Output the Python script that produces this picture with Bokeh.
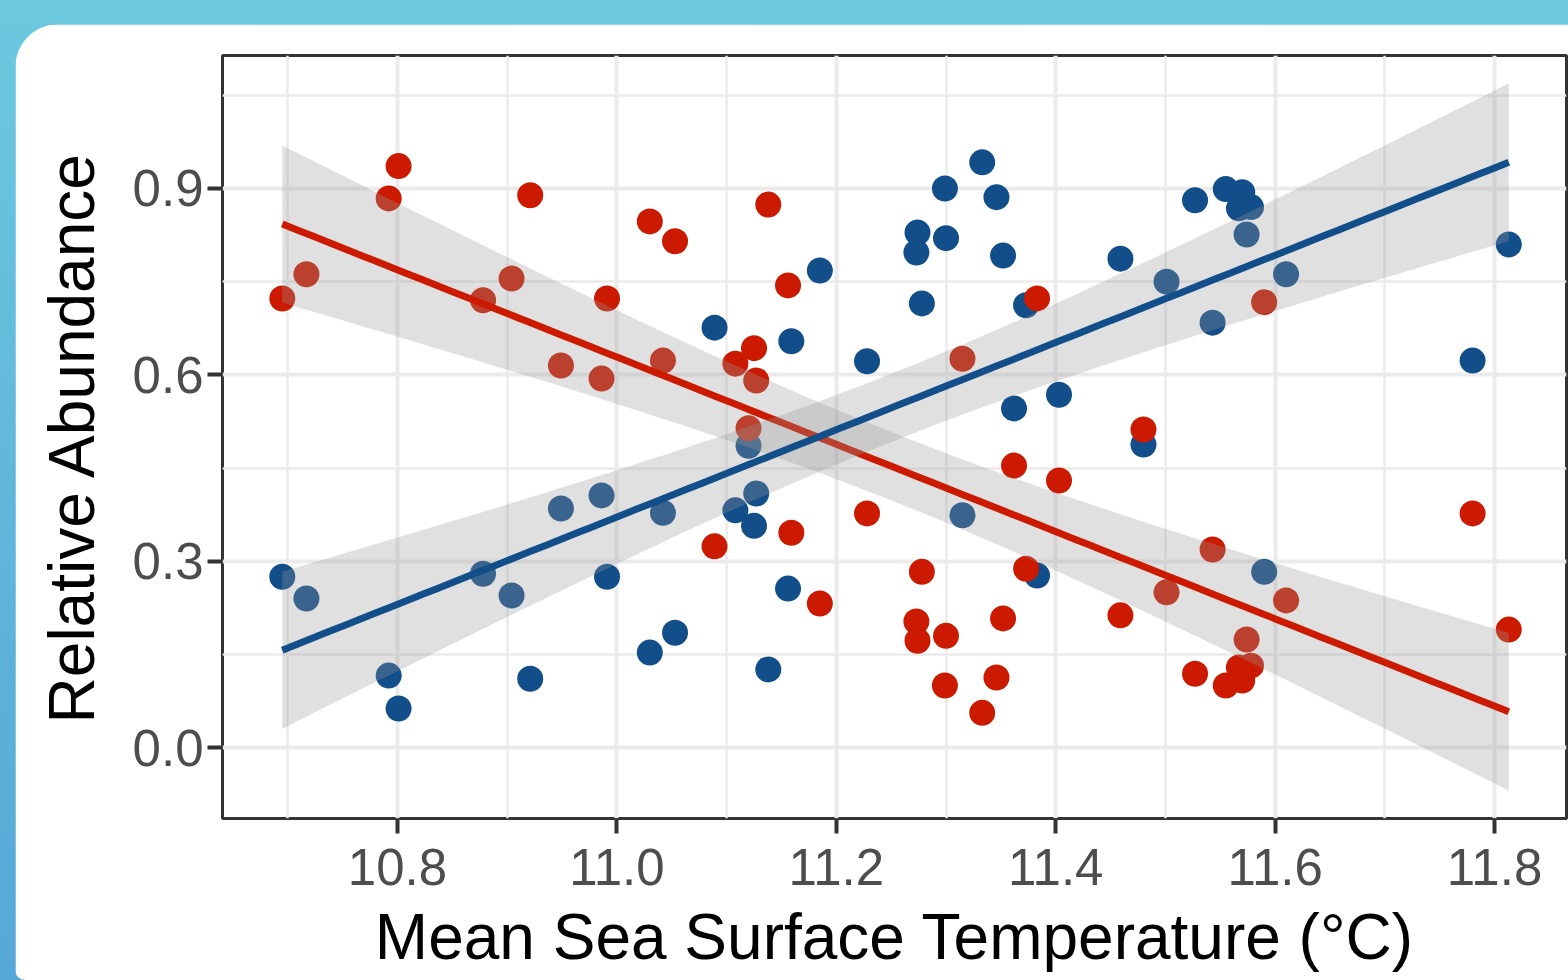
import numpy as np
from bokeh.plotting import figure
from bokeh.layouts import column
from bokeh.models import Range1d, FixedTicker
from bokeh.embed import file_html
from bokeh.resources import INLINE

# ---------------- data ----------------
sst = [10.695, 10.717, 10.801, 10.792, 10.921, 10.878, 10.904, 10.949, 10.986, 10.991,
       11.030, 11.053, 11.042, 11.089, 11.108, 11.125, 11.127, 11.120, 11.138, 11.156,
       11.159, 11.185, 11.228, 11.278, 11.273, 11.274, 11.300, 11.299, 11.315, 11.333,
       11.346, 11.352, 11.362, 11.373, 11.383, 11.403, 11.459, 11.480, 11.501, 11.527,
       11.543, 11.555, 11.567, 11.570, 11.578, 11.574, 11.590, 11.610, 11.780, 11.813]

red_abundance = [0.723, 0.762, 0.936, 0.884, 0.889, 0.720, 0.755, 0.615, 0.594, 0.723,
                 0.847, 0.815, 0.623, 0.324, 0.618, 0.643, 0.591, 0.514, 0.874, 0.744,
                 0.346, 0.232, 0.377, 0.283, 0.203, 0.172, 0.180, 0.100, 0.626, 0.056,
                 0.113, 0.208, 0.454, 0.288, 0.723, 0.430, 0.213, 0.512, 0.250, 0.119,
                 0.319, 0.100, 0.129, 0.108, 0.132, 0.174, 0.717, 0.237, 0.377, 0.190]

blue_abundance = [0.275, 0.240, 0.063, 0.116, 0.111, 0.280, 0.245, 0.385, 0.406, 0.275,
                  0.153, 0.185, 0.378, 0.676, 0.382, 0.357, 0.409, 0.486, 0.126, 0.256,
                  0.654, 0.768, 0.622, 0.715, 0.797, 0.829, 0.820, 0.900, 0.374, 0.942,
                  0.886, 0.792, 0.546, 0.712, 0.277, 0.568, 0.787, 0.488, 0.750, 0.881,
                  0.684, 0.899, 0.868, 0.894, 0.870, 0.826, 0.283, 0.762, 0.623, 0.810]

x_ticks = [10.8, 11.0, 11.2, 11.4, 11.6, 11.8]
x_tick_labels = ["10.8", "11.0", "11.2", "11.4", "11.6", "11.8"]
x_minor = [10.7, 10.9, 11.1, 11.3, 11.5, 11.7]
y_ticks = [0.0, 0.3, 0.6, 0.9]
y_tick_labels = ["0.0", "0.3", "0.6", "0.9"]
y_minor = [0.15, 0.45, 0.75, 1.05]

x_title = "Mean Sea Surface Temperature (°C)"
y_title = "Relative Abundance"

# ---------------- style ----------------
RED = "#CC1A00"
BLUE = "#124E89"
FONT = "Liberation Sans"
T95 = 2.0106  # t quantile, df = 48

# card (white rounded panel) occupies page x 15..1568, y 24..980
CW, CH = 1553, 956
# plotting panel inside the card (card coordinates)
FL, FT, FR, FB = 207, 31, 1551, 794

p = figure(width=CW, height=CH,
           x_range=Range1d(10.6405, 11.8656), y_range=Range1d(-0.114, 1.114),
           output_backend="svg", toolbar_location=None,
           min_border_left=FL, min_border_right=CW - FR,
           min_border_top=FT, min_border_bottom=CH - FB,
           styles={"border-radius": "44px 0px 0px 10px", "overflow": "hidden"})

p.background_fill_color = "white"
p.border_fill_color = "white"
p.outline_line_color = "#333333"
p.outline_line_width = 3

# axes
p.xaxis.ticker = FixedTicker(ticks=x_ticks, minor_ticks=x_minor)
p.yaxis.ticker = FixedTicker(ticks=y_ticks, minor_ticks=y_minor)
p.xaxis.major_label_overrides = {t: l for t, l in zip(x_ticks, x_tick_labels)}
p.yaxis.major_label_overrides = {t: l for t, l in zip(y_ticks, y_tick_labels)}
for ax in (p.xaxis, p.yaxis):
    ax.axis_line_color = None
    ax.minor_tick_line_color = None
    ax.major_tick_line_color = "#333333"
    ax.major_tick_line_width = 4
    ax.major_tick_in = 0
    ax.major_tick_out = 15
    ax.major_label_text_font = FONT
    ax.major_label_text_font_size = "51px"
    ax.major_label_text_color = "#4D4D4D"
    ax.axis_label_text_font = FONT
    ax.axis_label_text_font_size = "64px"
    ax.axis_label_text_font_style = "normal"
    ax.axis_label_text_color = "black"
p.xaxis.axis_label = x_title
p.yaxis.axis_label = y_title
p.xaxis.major_label_standoff = 15
p.yaxis.major_label_standoff = 4
p.xaxis.axis_label_standoff = 13
p.yaxis.axis_label_standoff = 22

for g in (p.xgrid, p.ygrid):
    g.grid_line_color = "#EBEBEB"
    g.grid_line_width = 4
    g.minor_grid_line_color = "#EBEBEB"
    g.minor_grid_line_width = 2.5

# points
p.scatter(sst, blue_abundance, size=26, fill_color=BLUE, line_color=None)
p.scatter(sst, red_abundance, size=26, fill_color=RED, line_color=None)

# linear fits with 95% confidence bands
xa = np.array(sst)


def lm_band(yvals):
    y = np.array(yvals)
    n = len(xa)
    slope, icpt = np.polyfit(xa, y, 1)
    resid = y - (icpt + slope * xa)
    s = np.sqrt(np.sum(resid ** 2) / (n - 2))
    sxx = np.sum((xa - xa.mean()) ** 2)
    xg = np.linspace(xa.min(), xa.max(), 80)
    yg = icpt + slope * xg
    se = s * np.sqrt(1.0 / n + (xg - xa.mean()) ** 2 / sxx)
    return xg, yg, yg - T95 * se, yg + T95 * se


for vals, col in ((red_abundance, RED), (blue_abundance, BLUE)):
    xg, yg, lo, hi = lm_band(vals)
    p.varea(x=xg, y1=lo, y2=hi, fill_color="#999999", fill_alpha=0.3)
    p.line(xg, yg, line_color=col, line_width=7)

# outer cyan/blue gradient frame behind the card
root = column(p, styles={
    "background": "linear-gradient(to bottom, #6CC8DF 0%, #63BADB 40%, #57A8D6 100%)",
    "padding": "24px 0px 0px 15px",
})

open("out.html", "w").write(file_html(root, INLINE))
